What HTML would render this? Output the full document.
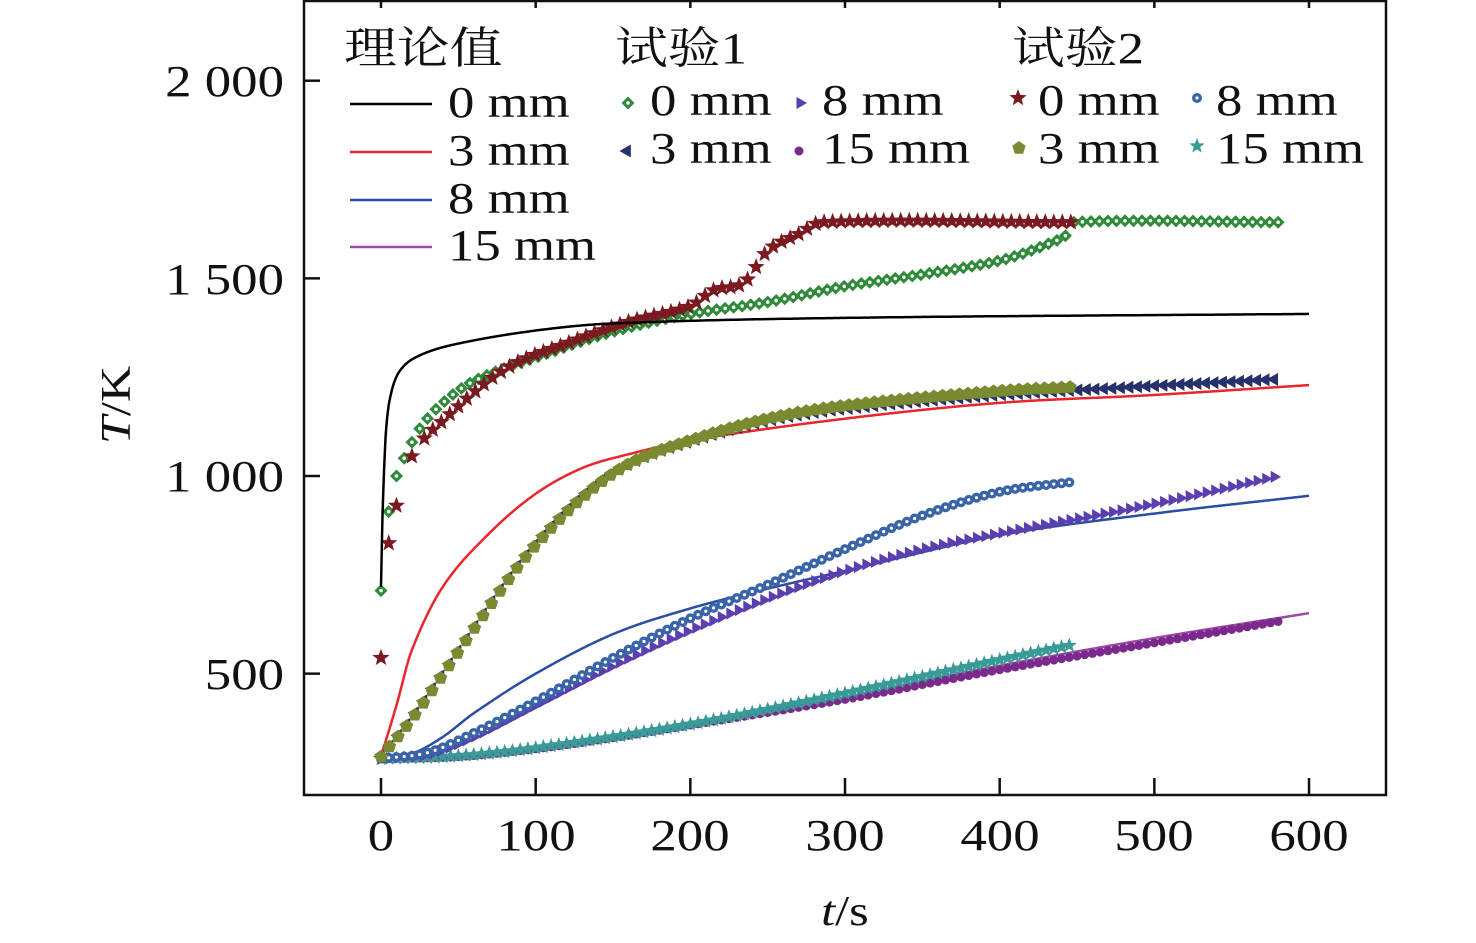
<!DOCTYPE html>
<html><head><meta charset="utf-8"><style>
html,body{margin:0;padding:0;background:#fff;}
svg{display:block;}
text{font-family:"Liberation Serif","Noto Serif CJK SC",serif;fill:#111;}
</style></head><body>
<svg id="s" width="1476" height="943" viewBox="0 0 1476 943" xmlns="http://www.w3.org/2000/svg">
<rect x="304" y="1" width="1082" height="794" fill="none" stroke="#111" stroke-width="2.5"/>
<g stroke="#111" stroke-width="2.5" id="ticks"></g>
<g font-size="44" text-anchor="end">
<text x="284" y="96">2 000</text>
<text x="284" y="294">1 500</text>
<text x="284" y="491">1 000</text>
<text x="284" y="689">500</text>
</g>
<g font-size="44" text-anchor="middle">
<text x="381" y="850">0</text>
<text x="536" y="850">100</text>
<text x="690" y="850">200</text>
<text x="845" y="850">300</text>
<text x="1000" y="850">400</text>
<text x="1154" y="850">500</text>
<text x="1309" y="850">600</text>
</g>
<text x="845" y="925" font-size="42" text-anchor="middle"><tspan font-style="italic">t</tspan>/s</text>
<text transform="translate(130,405) rotate(-90)" font-size="42" text-anchor="middle"><tspan font-style="italic">T</tspan>/K</text>
<g id="plot"></g>
<g id="leg" font-size="44">
<text x="344" y="63">理论值</text>
<text x="615" y="63">试验1</text>
<text x="1012" y="63">试验2</text>
<line x1="350" y1="104" x2="432" y2="104" stroke="#000" stroke-width="2.5"/>
<line x1="350" y1="152" x2="432" y2="152" stroke="#e8262b" stroke-width="2.5"/>
<line x1="350" y1="200" x2="432" y2="200" stroke="#2a4ea3" stroke-width="2.5"/>
<line x1="350" y1="247" x2="432" y2="247" stroke="#9c4aa8" stroke-width="2.5"/>
<text x="448" y="117">0 mm</text>
<text x="448" y="165">3 mm</text>
<text x="448" y="213">8 mm</text>
<text x="448" y="260">15 mm</text>
<text x="650" y="115">0 mm</text>
<text x="650" y="163">3 mm</text>
<text x="822" y="115">8 mm</text>
<text x="822" y="163">15 mm</text>
<text x="1038" y="115">0 mm</text>
<text x="1038" y="163">3 mm</text>
<text x="1216" y="115">8 mm</text>
<text x="1216" y="163">15 mm</text>
</g>
</svg>
<script>
const NS="http://www.w3.org/2000/svg";
const X=t=>381+t*1.5467, Y=T=>476+(1000-T)*0.3953;
function interp(pts,t){
 for(let i=0;i<pts.length-1;i++){
  if(t>=pts[i][0]&&t<=pts[i+1][0]){
   const p0=pts[Math.max(i-1,0)],p1=pts[i],p2=pts[i+1],p3=pts[Math.min(i+2,pts.length-1)];
   const u=(t-p1[0])/(p2[0]-p1[0]);
   const m1=(p2[1]-p0[1])/(p2[0]-p0[0]||1)*(p2[0]-p1[0]);
   const m2=(p3[1]-p1[1])/(p3[0]-p1[0]||1)*(p2[0]-p1[0]);
   const h00=2*u*u*u-3*u*u+1,h10=u*u*u-2*u*u+u,h01=-2*u*u*u+3*u*u,h11=u*u*u-u*u;
   return h00*p1[1]+h10*m1+h01*p2[1]+h11*m2;
  }}
 return pts[pts.length-1][1];
}
const plot=document.getElementById('plot');
function el(n,a,p){const e=document.createElementNS(NS,n);for(const k in a)e.setAttribute(k,a[k]);(p||plot).appendChild(e);return e;}
function line(pts,col){
 let d="";const end=pts[pts.length-1][0];
 for(let t=0;t<=end;t+=0.5){d+=(t?"L":"M")+X(t).toFixed(1)+","+Y(interp(pts,t)).toFixed(1);}
 el('path',{d,fill:'none',stroke:col,'stroke-width':2.5});
}
function star(cx,cy,r){let p=[];for(let i=0;i<10;i++){const a=-Math.PI/2+i*Math.PI/5,rr=i%2?r*0.42:r;p.push((cx+rr*Math.cos(a)).toFixed(1)+","+(cy+rr*Math.sin(a)).toFixed(1));}return p.join(" ");}
function poly(cx,cy,r,n,rot){let p=[];for(let i=0;i<n;i++){const a=rot+i*2*Math.PI/n;p.push((cx+r*Math.cos(a)).toFixed(1)+","+(cy+r*Math.sin(a)).toFixed(1));}return p.join(" ");}
function marker(type,cx,cy,col,g){
 g=g||plot;
 if(type==='dia'){el('polygon',{points:poly(cx,cy,6.5,4,0),fill:col},g);el('circle',{cx,cy,r:1.8,fill:'#fff'},g);}
 else if(type==='star'){el('polygon',{points:star(cx,cy,9),fill:col},g);}
 else if(type==='ltri'){el('polygon',{points:poly(cx,cy,7.5,3,Math.PI),fill:col},g);}
 else if(type==='rtri'){el('polygon',{points:poly(cx,cy,7,3,0),fill:col},g);}
 else if(type==='pent'){el('polygon',{points:poly(cx,cy,7,5,-Math.PI/2),fill:col},g);}
 else if(type==='circ'){el('circle',{cx,cy,r:5,fill:col},g);el('circle',{cx,cy,r:1.6,fill:'#fff'},g);}
 else if(type==='dot'){el('circle',{cx,cy,r:4.5,fill:col},g);}
 else if(type==='tstar'){el('polygon',{points:star(cx,cy,8),fill:col},g);}
}
function series(pts,type,col,step,extra){
 const end=pts[pts.length-1][0];
 if(extra)extra.forEach(t=>marker(type,X(t),Y(interp(pts,t)),col));
 for(let t=extra?Math.max(...extra)+step:0;t<=end+0.01;t+=step)marker(type,X(t),Y(interp(pts,t)),col);
}
const th0=[[0,720],[1,900],[3,1100],[6,1200],[12,1265],[25,1305],[50,1335],[100,1368],[150,1386],[300,1400],[600,1410]];
const th3=[[0,290],[10,420],[20,560],[40,720],[70,855],[100,955],[130,1020],[160,1055],[200,1090],[300,1145],[400,1185],[500,1205],[600,1230]];
const th8=[[0,290],[20,298],[40,340],[60,400],[100,500],[150,600],[200,665],[250,715],[300,760],[400,850],[500,905],[600,950]];
const th15=[[0,285],[50,290],[100,310],[150,338],[200,372],[300,440],[400,520],[500,590],[600,653]];
const a0=[[0,710],[5,910],[10,1000],[15,1045],[25,1120],[40,1185],[60,1240],[100,1300],[150,1365],[200,1410],[250,1440],[300,1480],[350,1510],[400,1545],[430,1585],[445,1615],[448,1642],[585,1642]];
const b0=[[0,540],[5,830],[10,925],[20,1050],[40,1140],[80,1270],[120,1335],[160,1390],[200,1430],[215,1470],[235,1490],[250,1570],[270,1612],[285,1642],[447,1642]];
const a3=[[0,290],[20,390],[50,560],[80,730],[100,830],[130,950],[160,1030],[200,1088],[250,1140],[300,1170],[400,1205],[500,1228],[580,1245]];
const b3=[[0,290],[20,385],[50,555],[80,725],[100,825],[130,945],[160,1030],[200,1090],[250,1145],[300,1178],[400,1215],[447,1225]];
const a8=[[0,285],[30,295],[60,340],[100,420],[150,520],[200,610],[250,690],[300,760],[350,815],[400,855],[500,930],[580,1000]];
const b8=[[0,285],[30,300],[60,350],[100,430],[150,540],[200,640],[250,725],[300,815],[350,900],[400,960],[447,985]];
const a15=[[0,285],[50,290],[100,310],[150,338],[200,370],[300,435],[400,510],[500,578],[580,632]];
const b15=[[0,285],[50,292],[100,312],[200,372],[300,450],[400,535],[447,573]];
line(th15,'#9c4aa8');
series(a15,'dot','#7b2a8c',5);
series(b15,'tstar','#3a9a98',5);
line(th8,'#2a4ea3');
series(a8,'rtri','#5a3fb0',5.5);
series(b8,'circ','#3a64a8',5);
line(th3,'#e8262b');
series(a3,'ltri','#26306a',5.5);
series(b3,'pent','#7a8a30',5.5);
series(a0,'dia','#2f8a3a',5.5,[0,5,10,15,20,25,30]);
series(b0,'star','#7a1a20',5.5,[0,5,10,20,28]);
line(th0,'#000');
const lg=document.getElementById('leg');
marker('dia',628,103,'#2f8a3a',lg);marker('ltri',627,151,'#26306a',lg);
marker('rtri',800,103,'#5a3fb0',lg);marker('dot',799,151,'#7b2a8c',lg);
marker('star',1018,98,'#7a1a20',lg);marker('pent',1019,148,'#7a8a30',lg);
marker('circ',1197,98,'#3a64a8',lg);marker('tstar',1197,146,'#3a9a98',lg);
const tk=document.getElementById('ticks');
for(let i=0;i<=6;i++){const x=X(i*100);el('line',{x1:x,y1:795,x2:x,y2:778},tk);el('line',{x1:x,y1:1,x2:x,y2:8},tk);}
for(const T of [500,1000,1500,2000]){const y=Y(T);el('line',{x1:304,y1:y,x2:320,y2:y},tk);}
// stretch text horizontally to match reference
document.querySelectorAll('svg text').forEach(t=>{
 const w=t.getComputedTextLength();
 if(w>0){t.setAttribute('textLength',(w*1.2).toFixed(1));t.setAttribute('lengthAdjust','spacingAndGlyphs');}
});
</script>
</body></html>
